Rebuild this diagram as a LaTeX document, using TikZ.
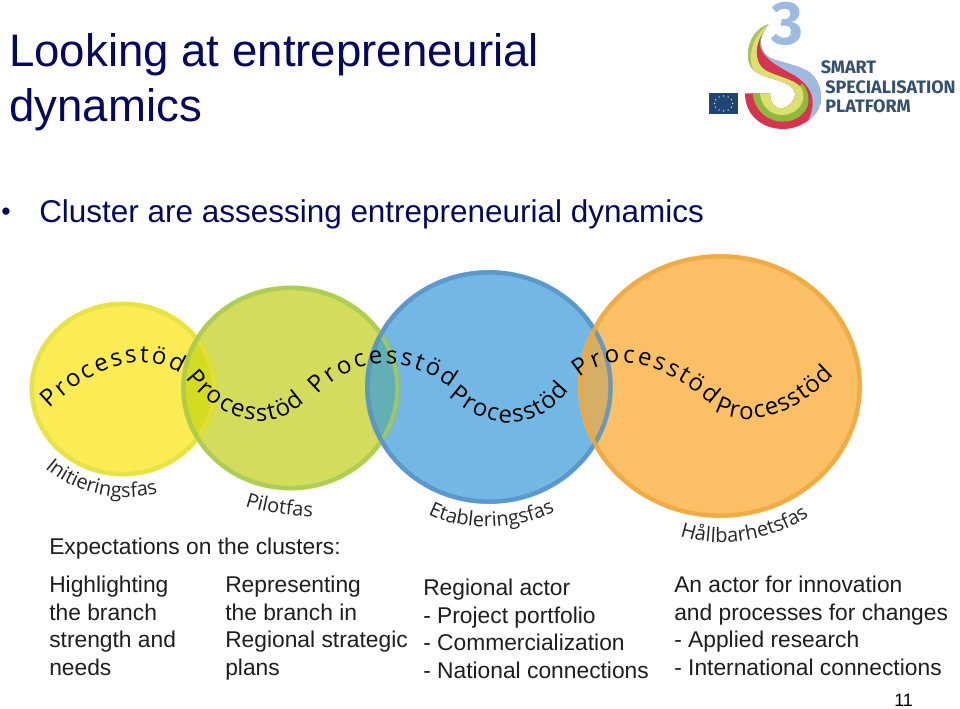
\documentclass[tikz,border=0pt]{standalone}
\usepackage{fontspec}
\setmainfont{Liberation Sans}
\newfontfamily\wavefont{Open Sans}
\newfontfamily\logofont{Fira Sans}
\usetikzlibrary{decorations.text}
\definecolor{titleblue}{HTML}{05085F}
\definecolor{listgray}{HTML}{1E1E1E}
\definecolor{logonavy}{HTML}{34506C}
\definecolor{cy}{HTML}{FBEB55}\definecolor{ry}{HTML}{E3E23F}
\definecolor{cg}{HTML}{D3DC5C}\definecolor{rg}{HTML}{A9CB55}
\definecolor{cb}{HTML}{73B8E5}\definecolor{rb}{HTML}{5A93C8}
\definecolor{co}{HTML}{FBC066}\definecolor{ro}{HTML}{F0A840}
\definecolor{oyg}{HTML}{D5DB1E}\definecolor{ogb}{HTML}{62B0B5}\definecolor{obo}{HTML}{D5AF66}
\definecolor{sred}{HTML}{D6344F}\definecolor{sblue}{HTML}{9DBBE0}
\definecolor{sgreen}{HTML}{8DB93F}\definecolor{syellow}{HTML}{DCE06F}\definecolor{slight}{HTML}{A8C45A}
\definecolor{solive}{HTML}{9AA58B}\definecolor{flagblue}{HTML}{1F4477}
\tikzset{
  x=0.75pt,y=-0.75pt,
  titletext/.style={anchor=base west,inner sep=0,font=\fontsize{34.2}{41}\selectfont,text=titleblue},
  bodytext/.style={anchor=base west,inner sep=0,font=\fontsize{23.6}{26}\selectfont,text=titleblue},
  listtext/.style={anchor=base west,inner sep=0,align=left,font=\fontsize{17.1}{20.6}\selectfont,text=listgray},
  wave/.style={decorate,decoration={text along path,text align={fit to path},
     text={|\wavefont\fontsize{18}{21}\selectfont|Processtöd}}},
  phaselabel/.style={decorate,decoration={text along path,text align={fit to path},
     text={|\wavefont\fontsize{15}{18}\selectfont\color{black!85}|#1}}},
  logotext/.style={anchor=base west,inner sep=0,text=logonavy,font=\logofont\bfseries\fontsize{13.5}{16}\selectfont},
}
\begin{document}
\begin{tikzpicture}
\useasboundingbox (0,0) rectangle (960,709);
\fill[white] (0,0) rectangle (960,709);
% title
\node[titletext] (t1) at (9,66.5) {Looking at entrepreneurial};
\node[titletext] (t2) at (9,121.5) {dynamics};
\node[anchor=base west,inner sep=0,font=\fontsize{20}{22}\selectfont,text=titleblue] (bu) at (1,221) {•};
\node[bodytext] (b1) at (39,222.5) {Cluster are assessing entrepreneurial dynamics};
% circles
\fill[cy] (123,389) ellipse [x radius=93.5,y radius=87.5];
\fill[cg] (290.5,388) ellipse [x radius=109.5,y radius=102.5];
\fill[cb] (489,387) ellipse [x radius=124,y radius=117];
\fill[co] (720,386) ellipse [x radius=142,y radius=132];
\begin{scope}
\clip (123,389) ellipse [x radius=93.5,y radius=87.5];
\fill[oyg] (290.5,388) ellipse [x radius=109.5,y radius=102.5];
\end{scope}
\begin{scope}
\clip (290.5,388) ellipse [x radius=109.5,y radius=102.5];
\fill[ogb] (489,387) ellipse [x radius=124,y radius=117];
\end{scope}
\begin{scope}
\clip (489,387) ellipse [x radius=124,y radius=117];
\fill[obo] (720,386) ellipse [x radius=142,y radius=132];
\end{scope}
\begin{scope}[line width=3.2pt,opacity=0.85]
\draw[ry] (123,389) ellipse [x radius=91,y radius=85];
\draw[rg] (290.5,388) ellipse [x radius=107,y radius=100];
\draw[rb] (489,387) ellipse [x radius=121.5,y radius=114.5];
\draw[ro] (720,386) ellipse [x radius=139.5,y radius=129.5];
\end{scope}
% wave texts
\path[wave] (50,409) .. controls (85,375) and (135,345) .. (180,374);
\path[wave] (186,378) .. controls (215,415) and (265,440) .. (305,402);
\path[wave] (318,395) .. controls (350,360) and (400,350) .. (451,388);
\path[wave] (449,396) .. controls (480,425) and (530,440) .. (569,390);
\path[wave] (580,378) .. controls (610,350) and (660,360) .. (712,405);
\path[wave] (714,411) .. controls (750,430) and (795,415) .. (834,375);
% phase labels
\path[phaselabel=Initieringsfas] (45,468) .. controls (70,490) and (115,505) .. (158,493);
\path[phaselabel=Pilotfas] (245,506) .. controls (265,513) and (290,516) .. (311,517);
\path[phaselabel=Etableringsfas] (428,514) .. controls (465,533) and (515,530) .. (554,512);
\path[phaselabel=Hållbarhetsfas] (680,536) .. controls (720,550) and (775,540) .. (809,516);
% list
\node[listtext] (exp) at (49,554) {Expectations on the clusters:};
\node[listtext] (c1) at (49,675) {Highlighting\\the branch\\strength and\\needs};
\node[listtext] (c2) at (225,675) {Representing\\the branch in\\Regional strategic\\plans};
\node[listtext] (c3) at (423,678) {Regional actor\\- Project portfolio\\- Commercialization\\- National connections};
\node[listtext] (c4) at (674,675) {An actor for innovation\\and processes for changes\\- Applied research\\- International connections};
\node[anchor=base west,inner sep=0,font=\fontsize{13.5}{16}\selectfont,text=black] (num) at (894,706) {11};
% logo
\fill[flagblue] (709,93) rectangle (738,114);
\foreach \a in {0,30,...,330}
  \fill[yellow!80!white] (723.5,103.5) ++(\a:9 and -7.5) circle (0.75);
\node[anchor=base,inner sep=0,text=sblue,font=\logofont\bfseries\fontsize{46}{50}\selectfont] (three) at (787.5,45) {3};
\begin{scope}[shift={(740,15)},x=0.25pt,y=-0.25pt]
% whole S in red
\fill[sred] (85,28) .. controls (62,55) and (50,95) .. (80,122)
  .. controls (105,142) and (165,145) .. (205,170)
  .. controls (230,188) and (243,215) .. (243,250)
  .. controls (243,300) and (185,342) .. (130,342)
  .. controls (65,342) and (15,300) .. (15,235)
  -- (90,235) .. controls (90,260) and (100,280) .. (122,280)
  .. controls (145,280) and (168,255) .. (165,235)
  .. controls (160,195) and (75,195) .. (40,165)
  .. controls (5,125) and (30,45) .. (85,28) -- cycle;
% blue band
\fill[sblue] (85,28) .. controls (62,55) and (50,95) .. (80,122)
  .. controls (105,142) and (165,145) .. (205,170)
  .. controls (230,188) and (243,215) .. (243,250)
  .. controls (243,275) and (228,300) .. (205,316)
  .. controls (226,270) and (228,222) .. (165,182)
  .. controls (125,160) and (75,135) .. (62,100)
  .. controls (56,75) and (65,50) .. (85,28) -- cycle;
\fill[solive] (85,28) .. controls (62,55) and (50,95) .. (80,122)
  .. controls (72,118) and (66,110) .. (62,100)
  .. controls (56,75) and (65,50) .. (85,28) -- cycle;
% green band
\fill[sgreen] (38,235) .. controls (42,290) and (90,322) .. (130,320)
  .. controls (175,320) and (210,285) .. (205,250)
  .. controls (203,225) and (195,212) .. (185,205)
  -- (165,235) .. controls (168,255) and (145,280) .. (122,280)
  .. controls (100,280) and (90,260) .. (90,235) -- cycle;
% yellow band
\fill[syellow] (85,28) .. controls (30,45) and (5,125) .. (40,165)
  .. controls (75,195) and (160,195) .. (165,235)
  .. controls (168,255) and (145,280) .. (122,280)
  .. controls (100,280) and (90,260) .. (90,235)
  -- (60,235) .. controls (62,275) and (95,300) .. (125,300)
  .. controls (165,300) and (195,270) .. (190,235)
  .. controls (186,195) and (120,190) .. (75,165)
  .. controls (45,145) and (35,90) .. (85,28) -- cycle;
% light green strip
\fill[slight] (85,28) .. controls (30,45) and (5,125) .. (40,165)
  .. controls (22,125) and (38,60) .. (85,28) -- cycle;
\end{scope}
\node[logotext] (s1) at (820.5,74) {SMART};
\node[logotext] (s2) at (825,93.5) {SPECIALISATION};
\node[logotext] (s3) at (825,113) {PLATFORM};
\end{tikzpicture}
\end{document}
